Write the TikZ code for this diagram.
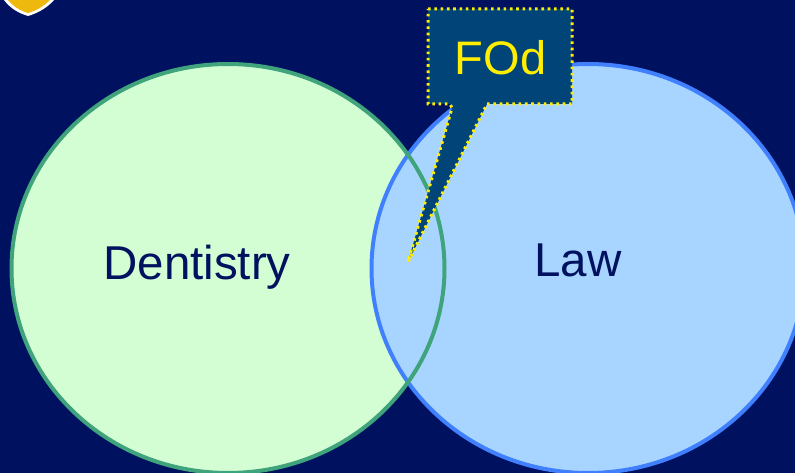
\documentclass[tikz,border=0pt]{standalone}
\usepackage{fontspec}
\setmainfont{Liberation Sans}
\usetikzlibrary{shapes.geometric}
\definecolor{slidebg}{HTML}{00125F}
\definecolor{dentfill}{HTML}{D3FDD3}
\definecolor{dentline}{HTML}{3FA37B}
\definecolor{lawfill}{HTML}{A8D5FF}
\definecolor{lawline}{HTML}{4080FF}
\definecolor{calloutfill}{HTML}{004478}
\definecolor{calloutline}{HTML}{FFEE00}
\definecolor{badgefill}{HTML}{EDB90F}
\tikzset{
  setarea/.style={ellipse, minimum width=433pt, minimum height=409pt, line width=4pt, inner sep=0pt},
  setlabel/.style={text=slidebg, font=\fontsize{47.5}{50}\selectfont, inner sep=0pt},
  calloutbox/.style={fill=calloutfill, draw=calloutline, line width=3pt, dash pattern=on 2.6pt off 3.7pt}
}
\begin{document}
\begin{tikzpicture}[x=1pt, y=-1pt]
    \useasboundingbox (0,0) rectangle (795,473);
    \clip (0,0) rectangle (795,473);
    \fill[slidebg] (0,0) rectangle (795,473);

    % Badge cut off by the top edge
    \fill[white] (4,0) .. controls (10,8) and (18,13) .. (28,16) .. controls (38,13) and (47,8) .. (54,0) -- cycle;
    \fill[badgefill] (8,0) .. controls (13,6) and (20,11) .. (28,13) .. controls (36,11) and (44,6) .. (50,0) -- cycle;

    % Sets
    \node[setarea, fill=dentfill] (dentistry) at (228,268.5) {};
    \node[setarea, fill=lawfill, draw=lawline] (law) at (588,268.5) {};
    \node[setarea, draw=dentline] (dentring) at (228,268.5) {};
    \node[setlabel] (dentlabel) at (197,267) {Dentistry};
    \node[setlabel] (lawlabel) at (578,260) {Law};

    % Callout
    \draw[calloutbox] (428,9) -- (572,9) -- (572,104) -- (487,104) -- (408,262) -- (452,108) -- (450,104) -- (428,104) -- cycle;
    \node[text=calloutline, font=\fontsize{47}{50}\selectfont, inner sep=0pt] (fod) at (500.5,57.5) {FOd};
\end{tikzpicture}
\end{document}
